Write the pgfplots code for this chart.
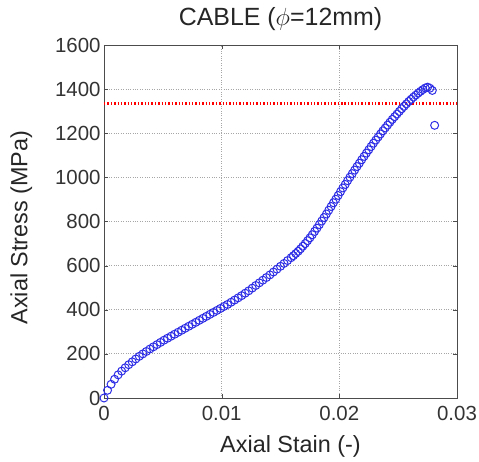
\documentclass[border=0pt]{standalone}
\usepackage{fontspec}
\setmainfont{Liberation Sans}
\usepackage{pgfplots}
\pgfplotsset{compat=1.18}

\pgfplotstableread{
x y
0.0000 0
0.0003 35
0.0006 62
0.0009 85
0.0012 105
0.0015 122
0.0018 137
0.0021 151
0.0024 164
0.0027 177
0.0030 189
0.0033 200
0.0036 211
0.0039 222
0.0042 232
0.0045 242
0.0048 252
0.0051 262
0.0054 271
0.0057 280
0.0060 289
0.0063 298
0.0066 307
0.0069 316
0.0072 325
0.0075 334
0.0078 343
0.0081 352
0.0084 361
0.0087 370
0.0090 379
0.0093 388
0.0096 397
0.0099 406
0.0102 415
0.0105 424
0.0108 434
0.0111 444
0.0114 454
0.0117 464
0.0120 475
0.0123 486
0.0126 498
0.0129 510
0.0132 522
0.0135 534
0.0138 546
0.0141 558
0.0144 571
0.0147 584
0.0150 597
0.0153 610
0.0156 623
0.0159 636
0.0161 645
0.0163 655
0.0165 665
0.0167 676
0.0169 688
0.0171 700
0.0173 713
0.0175 726
0.0177 740
0.0179 755
0.0181 770
0.0183 786
0.0185 802
0.0187 818
0.0189 834
0.0191 851
0.0193 868
0.0195 885
0.0197 901
0.0199 918
0.0201 935
0.0203 952
0.0205 968
0.0207 985
0.0209 1001
0.0211 1017
0.0213 1033
0.0215 1049
0.0217 1064
0.0219 1080
0.0221 1095
0.0223 1110
0.0225 1125
0.0227 1140
0.0229 1155
0.0231 1169
0.0233 1183
0.0235 1197
0.0237 1211
0.0239 1224
0.0241 1237
0.0243 1250
0.0245 1263
0.0247 1275
0.0249 1287
0.0251 1299
0.0253 1311
0.0255 1322
0.0257 1333
0.0259 1344
0.0261 1354
0.0263 1364
0.0265 1373
0.0267 1382
0.0269 1390
0.0271 1398
0.0273 1405
0.0275 1409
0.0277 1404
0.0279 1394
0.0281 1236
}\cabledata

\begin{document}
\begin{tikzpicture}
\begin{axis}[
  name=ax,
  scale only axis,
  width=353bp, height=353bp,
  xmin=0, xmax=0.03, ymin=0, ymax=1600,
  xtick={0,0.01,0.02,0.03},
  ytick={0,200,...,1600},
  scaled x ticks=false,
  xticklabel style={/pgf/number format/fixed, /pgf/number format/precision=2, yshift=-5bp},
  /pgf/number format/1000 sep={},
  /pgf/number format/assume math mode=true,
  tick label style={font=\fontsize{20.5}{23}\selectfont, color=black!80},
  label style={font=\fontsize{23.5}{27}\selectfont, color=black!85},
  title style={font=\fontsize{25}{29}\selectfont, color=black!85, yshift=5bp},
  xlabel style={yshift=-8bp, xshift=10bp},
  ylabel style={yshift=16bp, xshift=-6bp},
  title={CABLE ($\phi$=12mm)},
  xlabel={Axial Stain (-)},
  ylabel={Axial Stress (MPa)},
  grid=major,
  major grid style={gray!70, dotted, line width=0.9pt},
  tick align=inside,
  axis line style={black!70, line width=0.9pt},
  major tick style={black!70},
  clip=false,
]
\addplot[red, line width=2.4pt, dash pattern=on 1.4pt off 2pt] coordinates {(0,1335) (0.03,1335)};
\addplot[only marks, mark=o, mark size=4pt, color={rgb,255:red,45;green,45;blue,230}, mark options={line width=1pt}] table[x=x, y=y] {\cabledata};
\end{axis}
\path (ax.south west) ++(-104bp,-64bp) coordinate (bbA);
\path (ax.north east) ++(22bp,45bp) coordinate (bbB);
\pgfresetboundingbox
\path (bbA) rectangle (bbB);
\end{tikzpicture}
\end{document}
